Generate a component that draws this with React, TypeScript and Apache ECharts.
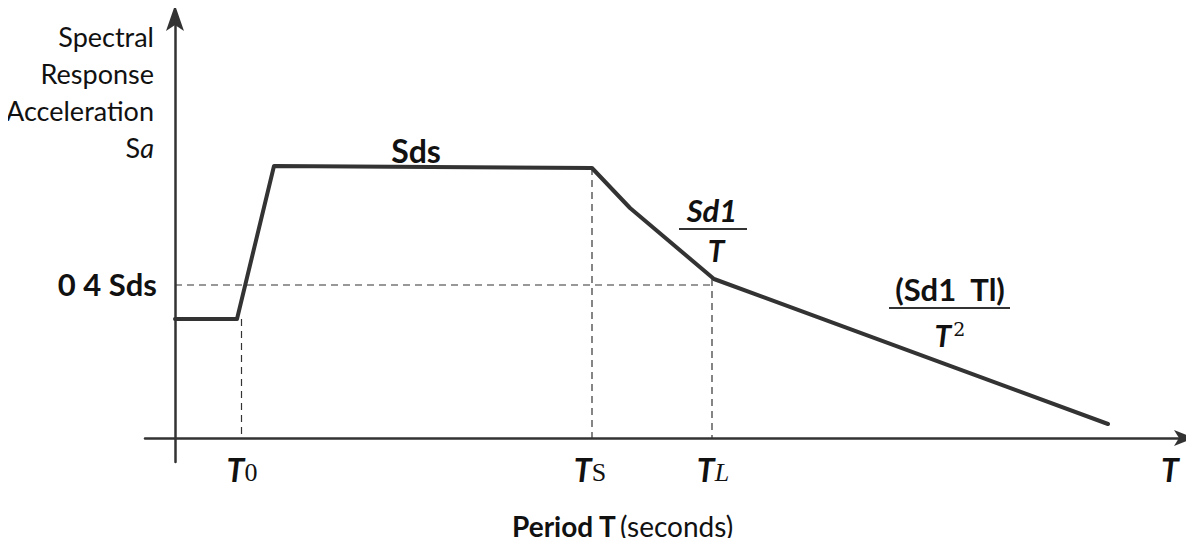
import React, { useEffect, useRef } from "react";
import * as echarts from "echarts";

// Response spectrum curve (period T, spectral acceleration Sa) in arbitrary units
const curveT = [0, 0.62, 0.99, 4.17, 4.55, 5.39, 9.33];
const curveSa = [2.975, 2.975, 6.8, 6.75, 5.75, 3.975, 0.35];

// Characteristic periods
const T0 = 0.665;
const TS = 4.17;
const TL = 5.37;
const SA_04SDS = 3.825;
const SA_AT_T0 = 2.975;
const SA_AT_TS = 6.75;
const SA_AT_TL = 3.975;

// Axis ranges
const X_MIN = -0.3;
const X_MAX = 10.13;
const Y_MIN = -0.6;
const Y_MAX = 10.65;

const yTitleLines = ["Spectral", "Response", "Acceleration"];

const FONT = "Lato, 'Open Sans', sans-serif";
const INK = "#333333";

export default function App() {
  const ref = useRef<HTMLDivElement>(null);
  useEffect(() => {
    if (!ref.current) return;
    const chart = echarts.init(ref.current, undefined, { renderer: "svg" });
    const curve = curveT.map((t, i) => [t, curveSa[i]]);
    const dashStyle = { color: INK, width: 1.2, type: [7, 5] as any };
    const dashed = (data: number[][]) => ({
      type: "line",
      data,
      symbol: "none",
      silent: true,
      lineStyle: dashStyle,
      z: 1,
    });
    const txt = (x: number, y: number, text: string, extra: any = {}) => ({
      type: "text",
      x,
      y,
      style: {
        text,
        fontFamily: FONT,
        fontSize: 24,
        fill: "#111",
        textAlign: "center",
        textVerticalAlign: "middle",
        ...extra,
      },
    });
    const bar = (x1: number, x2: number, y: number) => ({
      type: "line",
      shape: { x1, y1: y, x2, y2: y },
      style: { stroke: INK, lineWidth: 2 },
    });
    const axisCommon = {
      axisTick: { show: false },
      axisLabel: { show: false },
      splitLine: { show: false },
    };
    chart.setOption({
      animation: false,
      grid: { left: 145, right: 6, top: 12, bottom: 84, containLabel: false },
      xAxis: {
        type: "value",
        min: X_MIN,
        max: X_MAX,
        axisLine: { onZero: true, lineStyle: { color: INK, width: 2.5 } },
        ...axisCommon,
      },
      yAxis: {
        type: "value",
        min: Y_MIN,
        max: Y_MAX,
        axisLine: { onZero: true, lineStyle: { color: INK, width: 2.5 } },
        ...axisCommon,
      },
      series: [
        dashed([
          [0, SA_04SDS],
          [TL, SA_04SDS],
        ]),
        dashed([
          [T0, SA_AT_T0],
          [T0, 0],
        ]),
        dashed([
          [TS, SA_AT_TS],
          [TS, 0],
        ]),
        dashed([
          [TL, SA_AT_TL],
          [TL, 0],
        ]),
        {
          type: "line",
          data: curve,
          symbol: "none",
          lineStyle: { color: INK, width: 4, join: "round", cap: "round" },
          z: 3,
        },
      ],
      graphic: [
        // arrowheads of the axes
        {
          type: "polygon",
          shape: { points: [[175, 5], [184, 31], [175, 25], [166, 31]] },
          style: { fill: INK },
        },
        {
          type: "polygon",
          shape: { points: [[1194, 438], [1174, 446], [1179, 438], [1174, 430]] },
          style: { fill: INK },
        },
        ...yTitleLines.map((t, i) =>
          txt(154, 36 + i * 37, t, { textAlign: "right", fontSize: 27 })
        ),
        {
          type: "text",
          x: 154,
          y: 147,
          style: {
            text: "{s|S}{a|a}",
            textAlign: "right",
            textVerticalAlign: "middle",
            rich: {
              s: { fontFamily: FONT, fontSize: 27, fill: "#111" },
              a: { fontFamily: FONT, fontSize: 27, fontStyle: "italic", fill: "#111" },
            },
          },
        },
        txt(157, 284, "0 4 Sds", { textAlign: "right", fontSize: 31, fontWeight: "bold" }),
        txt(416, 150, "Sds", { fontSize: 32, fontWeight: "bold" }),
        txt(712, 210, "Sd1", { fontSize: 31, fontWeight: "bold", fontStyle: "italic" }),
        bar(679, 747, 229),
        txt(716, 250, "T", { fontSize: 30, fontWeight: "bold", fontStyle: "italic" }),
        txt(950, 289, "(Sd1  Tl)", { fontSize: 31, fontWeight: "bold" }),
        bar(889, 1010, 308),
        {
          type: "text",
          x: 950,
          y: 335,
          style: {
            text: "{t|T}{e|2}",
            textAlign: "center",
            textVerticalAlign: "middle",
            rich: {
              t: { fontFamily: FONT, fontSize: 30, fontWeight: "bold", fontStyle: "italic", fill: "#111" },
              e: { fontFamily: "'DejaVu Serif', serif", fontSize: 19, fill: "#111", verticalAlign: "top", padding: [0, 0, 12, 2] },
            },
          },
        },
        ...[
          { x: 242, sub: "0" },
          { x: 590, sub: "S" },
          { x: 713, sub: "L" },
        ].map((d) => ({
          type: "text",
          x: d.x,
          y: 469,
          style: {
            text: `{t|T}{s|${d.sub}}`,
            textAlign: "center",
            textVerticalAlign: "middle",
            rich: {
              t: { fontFamily: FONT, fontSize: 32, fontWeight: "bold", fontStyle: "italic", fill: "#111" },
              s: { fontFamily: "'Liberation Serif', serif", fontSize: 26, fontStyle: d.sub === "L" ? "italic" : "normal", fill: "#111", padding: [6, 0, 0, 0] },
            },
          },
        })),
        txt(1170, 469, "T", { fontSize: 32, fontWeight: "bold", fontStyle: "italic" }),
        {
          type: "text",
          x: 512,
          y: 526,
          style: {
            text: "{b|Period T} {r|(seconds)}",
            textAlign: "left",
            textVerticalAlign: "middle",
            rich: {
              b: { fontFamily: FONT, fontSize: 28, fontWeight: "bold", fill: "#111" },
              r: { fontFamily: FONT, fontSize: 28, fill: "#111" },
            },
          },
        },
      ],
    });
    return () => chart.dispose();
  }, []);
  return <div ref={ref} style={{ width: 1194, height: 546, margin: -8 }} />;
}
